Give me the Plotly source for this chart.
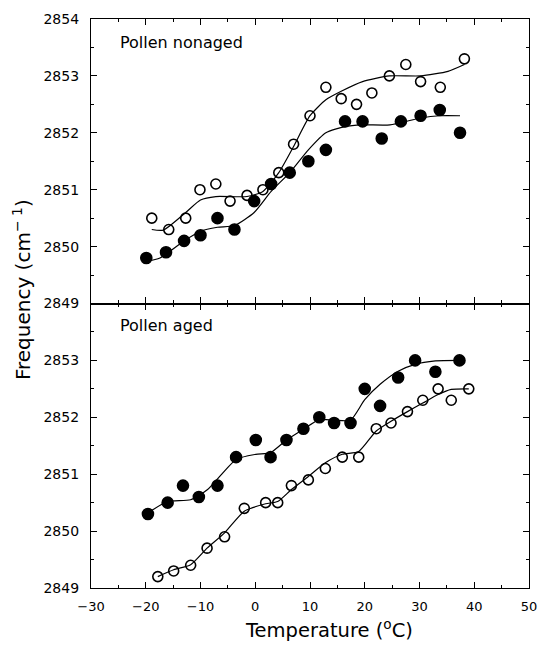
import plotly.graph_objects as go

# ---- Data: top panel (Pollen nonaged) ----
top_open_x = [-18.9, -15.8, -12.7, -10.1, -7.2, -4.6, -1.5, 1.4, 4.3, 7.0, 10.0, 12.9, 15.7, 18.5, 21.3, 24.5, 27.5, 30.2, 33.8, 38.2]
top_open_y = [2850.5, 2850.3, 2850.5, 2851.0, 2851.1, 2850.8, 2850.9, 2851.0, 2851.3, 2851.8, 2852.3, 2852.8, 2852.6, 2852.5, 2852.7, 2853.0, 2853.2, 2852.9, 2852.8, 2853.3]
top_fill_x = [-19.9, -16.3, -13.0, -10.0, -6.9, -3.8, -0.2, 2.9, 6.3, 9.7, 12.9, 16.4, 19.6, 23.1, 26.6, 30.2, 33.7, 37.4]
top_fill_y = [2849.8, 2849.9, 2850.1, 2850.2, 2850.5, 2850.3, 2850.8, 2851.1, 2851.3, 2851.5, 2851.7, 2852.2, 2852.2, 2851.9, 2852.2, 2852.3, 2852.4, 2852.0]

top_open_fit_x = [-18.9, -16.8, -12.7, -10.0, -7.2, -1.5, 1.4, 4.3, 7.0, 10.0, 12.9, 15.7, 19.6, 24.5, 30.2, 35.2, 38.2]
top_open_fit_y = [2850.3, 2850.29, 2850.6, 2850.82, 2850.88, 2850.88, 2850.97, 2851.3, 2851.76, 2852.3, 2852.58, 2852.73, 2852.9, 2853.0, 2853.0, 2853.08, 2853.2]
top_fill_fit_x = [-19.9, -17.4, -13.0, -10.0, -6.9, -3.8, -0.2, 2.9, 6.3, 9.7, 12.9, 16.4, 19.6, 24.6, 30.2, 33.7, 37.4]
top_fill_fit_y = [2849.74, 2849.8, 2850.1, 2850.27, 2850.34, 2850.37, 2850.6, 2850.97, 2851.3, 2851.7, 2852.0, 2852.11, 2852.14, 2852.14, 2852.26, 2852.3, 2852.3]

# ---- Data: bottom panel (Pollen aged) ----
bot_fill_x = [-19.6, -16.0, -13.2, -10.3, -6.9, -3.5, 0.1, 2.8, 5.7, 8.8, 11.7, 14.4, 17.4, 20.0, 22.8, 26.1, 29.2, 32.9, 37.3]
bot_fill_y = [2850.3, 2850.5, 2850.8, 2850.6, 2850.8, 2851.3, 2851.6, 2851.3, 2851.6, 2851.8, 2852.0, 2851.9, 2851.9, 2852.5, 2852.2, 2852.7, 2853.0, 2852.8, 2853.0]
bot_open_x = [-17.8, -14.9, -11.8, -8.8, -5.6, -2.0, 1.9, 4.1, 6.6, 9.7, 12.8, 15.9, 18.9, 22.1, 24.8, 27.8, 30.6, 33.4, 35.8, 39.0]
bot_open_y = [2849.2, 2849.3, 2849.4, 2849.7, 2849.9, 2850.4, 2850.5, 2850.5, 2850.8, 2850.9, 2851.1, 2851.3, 2851.3, 2851.8, 2851.9, 2852.1, 2852.3, 2852.5, 2852.3, 2852.5]

bot_fill_fit_x = [-19.6, -16.0, -11.8, -8.7, -3.5, 0.1, 2.8, 5.7, 8.8, 11.7, 14.4, 17.4, 20.0, 22.8, 26.1, 29.2, 32.9, 37.3]
bot_fill_fit_y = [2850.32, 2850.52, 2850.55, 2850.73, 2851.26, 2851.35, 2851.38, 2851.6, 2851.79, 2851.96, 2851.95, 2851.95, 2852.31, 2852.58, 2852.81, 2852.93, 2852.99, 2853.0]
bot_open_fit_x = [-17.8, -14.9, -11.8, -8.8, -5.6, -2.0, 1.9, 4.1, 6.6, 9.7, 12.8, 15.9, 18.9, 22.1, 24.8, 27.8, 30.6, 33.4, 35.8, 39.0]
bot_open_fit_y = [2849.2, 2849.32, 2849.41, 2849.7, 2849.97, 2850.35, 2850.48, 2850.52, 2850.73, 2850.96, 2851.2, 2851.35, 2851.4, 2851.76, 2851.93, 2852.1, 2852.25, 2852.4, 2852.49, 2852.5]

x_ticks = [-30, -20, -10, 0, 10, 20, 30, 40, 50]
top_y_ticks = [2849, 2850, 2851, 2852, 2853, 2854]
bot_y_ticks = [2849, 2850, 2851, 2852, 2853]

FONT = "DejaVu Sans"
fig = go.Figure()

def add_line(x, y, xa, ya):
    fig.add_trace(go.Scatter(x=x, y=y, mode="lines", line=dict(color="black", width=1.2, shape="spline", smoothing=0.6),
                             xaxis=xa, yaxis=ya, showlegend=False, hoverinfo="skip"))

def add_pts(x, y, xa, ya, filled):
    fig.add_trace(go.Scatter(x=x, y=y, mode="markers",
                             marker=dict(symbol="circle" if filled else "circle-open", size=11 if filled else 10,
                                         color="black", line=dict(color="black", width=1.6)),
                             xaxis=xa, yaxis=ya, showlegend=False))

add_line(top_open_fit_x, top_open_fit_y, "x2", "y2")
add_line(top_fill_fit_x, top_fill_fit_y, "x2", "y2")
add_pts(top_open_x, top_open_y, "x2", "y2", False)
add_pts(top_fill_x, top_fill_y, "x2", "y2", True)

add_line(bot_fill_fit_x, bot_fill_fit_y, "x", "y")
add_line(bot_open_fit_x, bot_open_fit_y, "x", "y")
add_pts(bot_fill_x, bot_fill_y, "x", "y", True)
add_pts(bot_open_x, bot_open_y, "x", "y", False)

common_x = dict(range=[-30, 50], tickmode="array", tickvals=x_ticks, ticks="inside", ticklen=6, tickwidth=1.2,
                tickcolor="black", showline=True, linecolor="black", linewidth=1.3, mirror="ticks",
                showgrid=False, zeroline=False,
                minor=dict(tickvals=[-25, -15, -5, 5, 15, 25, 35, 45], ticks="inside", ticklen=3, tickcolor="black"))
common_y = dict(range=[2849, 2854], ticks="inside", ticklen=6, tickwidth=1.2, tickcolor="black",
                showline=True, linecolor="black", linewidth=1.3, mirror="ticks", showgrid=False, zeroline=False,
                minor=dict(tickvals=[2849.5, 2850.5, 2851.5, 2852.5, 2853.5], ticks="inside", ticklen=3, tickcolor="black"),
                ticklabelstandoff=8)

fig.update_layout(
    width=547, height=647,
    margin=dict(l=91, r=10, t=19, b=59),
    paper_bgcolor="white", plot_bgcolor="white",
    font=dict(family=FONT, size=13, color="black"),
    xaxis=dict(**common_x, anchor="y", domain=[0, 1], ticklabelstandoff=6,
               tickfont=dict(size=13, family=FONT)),
    xaxis2=dict(**common_x, anchor="y2", matches="x", showticklabels=False),
    yaxis=dict(**common_y, domain=[0, 0.5], anchor="x", tickmode="array", tickvals=bot_y_ticks,
               tickfont=dict(size=14, family=FONT)),
    yaxis2=dict(**common_y, domain=[0.5, 1], anchor="x2", tickmode="array", tickvals=top_y_ticks,
                tickfont=dict(size=14, family=FONT)),
    annotations=[
        dict(text="Pollen nonaged", x=-25.0, y=2853.58, xref="x2", yref="y2", xanchor="left", yanchor="middle",
             showarrow=False, font=dict(size=16, family=FONT)),
        dict(text="Pollen aged", x=-25.0, y=2853.61, xref="x", yref="y", xanchor="left", yanchor="middle",
             showarrow=False, font=dict(size=16, family=FONT)),
        dict(text="Temperature (<sup>o</sup>C)", x=0.543, y=-0.072, xref="paper", yref="paper", xanchor="center",
             yanchor="middle", showarrow=False, font=dict(size=19.5, family=FONT)),
        dict(text="Frequency (cm<sup>\u2212 1</sup>)", x=-0.158, y=0.525, xref="paper", yref="paper", xanchor="center",
             yanchor="middle", textangle=-90, showarrow=False, font=dict(size=20, family=FONT)),
    ],
)

fig.write_html("out.html")
